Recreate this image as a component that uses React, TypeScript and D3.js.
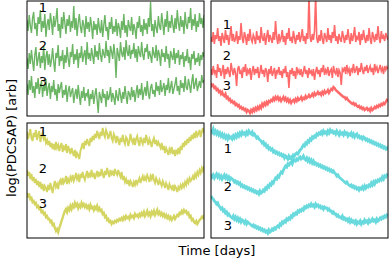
import React from 'react'
import * as d3 from 'd3'

// light curves, 160 samples each over the time span, arbitrary log-flux units (0 = panel bottom)
const greenS1 = [96, 85, 101, 90, 83, 98, 104, 87, 93, 80, 99, 92, 106, 84, 95, 88, 102, 79, 91, 97,
  86, 103, 94, 81, 100, 89, 96, 108, 85, 92, 78, 99, 87, 104, 93, 82, 97, 90, 101, 84,
  95, 88, 110, 86, 98, 80, 93, 102, 89, 83, 96, 91, 79, 100, 87, 94, 84, 99, 90, 77,
  95, 86, 92, 81, 98, 88, 83, 96, 79, 91, 101, 85, 89, 76, 94, 87, 99, 82, 90, 84,
  97, 80, 93, 88, 78, 95, 86, 102, 83, 91, 79, 96, 89, 85, 99, 81, 92, 87, 77, 94,
  88, 100, 84, 91, 80, 97, 86, 93, 82, 98, 89, 114, 85, 92, 79, 96, 88, 83, 100, 90,
  86, 103, 92, 81, 97, 89, 105, 84, 95, 88, 101, 91, 83, 98, 87, 106, 93, 85, 100, 89,
  96, 82, 104, 91, 87, 99, 93, 108, 86, 97, 90, 102, 84, 95, 89, 103, 92, 98, 88, 101]
const greenS2 = [58, 47, 63, 52, 66, 55, 45, 61, 69, 50, 57, 64, 48, 60, 53, 70, 46, 59, 65, 51,
  62, 49, 56, 68, 54, 44, 63, 58, 71, 50, 60, 55, 66, 47, 61, 53, 69, 57, 49, 64,
  59, 72, 52, 62, 56, 67, 48, 63, 58, 70, 54, 61, 66, 51, 74, 57, 63, 55, 68, 60,
  52, 71, 59, 65, 56, 73, 61, 54, 67, 62, 58, 75, 60, 66, 53, 70, 64, 57, 72, 61,
  38, 68, 62, 55, 74, 63, 59, 69, 56, 76, 64, 60, 71, 57, 66, 62, 73, 58, 67, 54,
  70, 63, 59, 74, 61, 56, 68, 64, 72, 57, 65, 60, 53, 69, 62, 58, 71, 55, 66, 61,
  50, 67, 59, 63, 54, 70, 57, 62, 48, 65, 60, 56, 68, 52, 63, 58, 66, 51, 61, 57,
  64, 49, 60, 55, 67, 53, 59, 46, 62, 57, 65, 51, 58, 54, 63, 50, 61, 56, 64, 59]
const greenS3 = [32, 21, 36, 26, 40, 23, 30, 18, 34, 27, 38, 22, 29, 35, 19, 31, 25, 37, 20, 28,
  33, 17, 30, 24, 36, 21, 27, 15, 32, 23, 29, 34, 18, 26, 21, 31, 14, 25, 30, 19,
  24, 28, 13, 22, 27, 17, 31, 20, 11, 25, 18, 29, 15, 23, 20, 27, 10, 22, 17, 26,
  12, 21, 28, 16, 3, 24, 19, 13, 27, 18, 22, 9, 25, 16, 20, 29, 14, 23, 18, 11,
  26, 19, 15, 28, 21, 13, 24, 17, 30, 20, 12, 25, 22, 16, 29, 19, 26, 14, 23, 31,
  18, 27, 21, 33, 16, 24, 29, 20, 35, 23, 17, 28, 32, 22, 26, 19, 34, 25, 30, 21,
  36, 24, 28, 33, 20, 31, 26, 38, 23, 29, 35, 22, 27, 32, 39, 25, 30, 21, 36, 28,
  33, 24, 40, 29, 26, 37, 31, 23, 34, 42, 27, 32, 38, 25, 30, 35, 28, 41, 33, 36]

const redS1 = [79, 74, 84, 72, 81, 77, 88, 75, 80, 70, 83, 78, 73, 86, 76, 81, 71, 79, 90, 75,
  82, 74, 77, 85, 72, 80, 76, 93, 78, 73, 84, 79, 71, 82, 75, 87, 77, 74, 81, 78,
  72, 85, 76, 80, 73, 89, 78, 75, 83, 71, 79, 86, 74, 81, 77, 73, 84, 76, 95, 79,
  72, 82, 75, 78, 86, 74, 80, 71, 83, 77, 88, 75, 79, 73, 85, 78, 72, 81, 76, 84,
  74, 79, 87, 75, 80, 72, 83, 77, 120, 79, 74, 82, 76, 85, 120, 78, 73, 81, 75, 86,
  77, 72, 83, 79, 74, 88, 76, 81, 73, 84, 78, 91, 75, 80, 72, 82, 77, 74, 85, 79,
  73, 81, 76, 87, 78, 72, 83, 75, 80, 89, 74, 79, 77, 84, 71, 82, 76, 86, 78, 73,
  81, 75, 88, 77, 72, 84, 79, 74, 82, 76, 90, 78, 73, 85, 77, 80, 75, 83, 79, 76]
const redS2 = [47, 41, 50, 43, 46, 38, 52, 44, 48, 40, 45, 51, 37, 47, 42, 49, 44, 39, 53, 46,
  41, 48, 43, 30, 47, 50, 42, 45, 38, 49, 44, 52, 40, 46, 43, 48, 36, 45, 50, 41,
  47, 43, 49, 38, 44, 51, 42, 46, 39, 48, 45, 34, 47, 42, 50, 40, 44, 48, 37, 46,
  43, 49, 41, 45, 38, 47, 43, 50, 39, 44, 28, 46, 42, 48, 40, 45, 37, 49, 43, 46,
  41, 47, 39, 44, 50, 42, 46, 38, 48, 43, 45, 40, 47, 36, 44, 49, 42, 46, 39, 48,
  44, 51, 41, 46, 43, 49, 40, 45, 47, 38, 50, 44, 42, 48, 39, 46, 43, 31, 47, 45,
  49, 42, 51, 44, 47, 40, 48, 45, 52, 43, 46, 50, 41, 48, 44, 53, 46, 42, 49, 45,
  51, 43, 47, 50, 44, 48, 41, 52, 46, 49, 43, 47, 51, 45, 48, 42, 50, 46, 49, 47]
const redS3 = [33, 30, 31, 28, 29, 26, 27, 24, 25, 22, 24, 21, 20, 22, 18, 19, 16, 17, 14, 15,
  13, 14, 11, 12, 10, 11, 8, 9, 7, 8, 6, 7, 4, 6, 5, 3, 6, 4, 7, 5,
  8, 6, 9, 7, 10, 8, 12, 10, 13, 11, 14, 12, 15, 14, 16, 15, 18, 16, 19, 17,
  19, 16, 18, 15, 17, 19, 16, 18, 15, 17, 14, 16, 13, 15, 16, 14, 17, 15, 18, 16,
  17, 19, 16, 18, 17, 20, 18, 19, 21, 19, 20, 22, 20, 23, 21, 22, 24, 22, 23, 21,
  24, 22, 25, 23, 24, 26, 23, 25, 27, 26, 29, 28, 26, 25, 24, 23, 22, 21, 20, 19,
  19, 17, 18, 16, 15, 14, 13, 12, 13, 11, 12, 10, 9, 10, 8, 9, 7, 8, 6, 7,
  8, 6, 7, 5, 8, 6, 7, 9, 8, 10, 9, 11, 10, 12, 11, 13, 12, 14, 16, 15]

const yellowS1 = [106, 99, 104, 109, 100, 97, 105, 101, 108, 98, 103, 107, 96, 102, 105, 99, 101, 95, 98, 93,
  97, 91, 95, 89, 94, 88, 96, 90, 93, 87, 92, 95, 86, 91, 89, 94, 85, 92, 88, 84,
  90, 86, 82, 88, 80, 85, 83, 79, 87, 91, 95, 89, 97, 93, 99, 95, 92, 100, 96, 102,
  98, 104, 100, 107, 103, 99, 106, 102, 110, 104, 101, 108, 105, 99, 103, 107, 100, 97, 104, 101,
  95, 102, 98, 93, 100, 96, 103, 97, 94, 101, 99, 92, 97, 104, 98, 95, 100, 93, 99, 102,
  96, 92, 101, 97, 94, 100, 95, 103, 98, 93, 99, 96, 91, 97, 100, 94, 98, 92, 96, 93,
  90, 95, 88, 92, 85, 90, 87, 83, 89, 86, 91, 84, 88, 82, 87, 85, 90, 84, 92, 88,
  95, 91, 97, 93, 99, 95, 101, 97, 103, 99, 105, 100, 107, 102, 104, 108, 101, 106, 110, 105]
const yellowS2 = [68, 62, 66, 59, 64, 57, 61, 55, 59, 53, 57, 51, 56, 49, 54, 47, 52, 50, 46, 53,
  48, 55, 50, 45, 52, 57, 51, 54, 49, 56, 58, 53, 60, 55, 57, 62, 54, 59, 56, 61,
  58, 63, 57, 60, 65, 59, 62, 56, 64, 60, 66, 61, 58, 63, 67, 60, 64, 62, 68, 61,
  65, 59, 63, 67, 61, 66, 62, 69, 64, 60, 67, 63, 70, 65, 61, 68, 64, 66, 62, 69,
  65, 63, 68, 64, 61, 66, 58, 62, 56, 59, 54, 58, 52, 57, 55, 51, 56, 53, 58, 54,
  57, 60, 55, 59, 62, 57, 61, 58, 63, 60, 56, 62, 59, 64, 58, 55, 60, 57, 53, 58,
  55, 52, 57, 54, 50, 55, 52, 48, 54, 51, 49, 53, 47, 52, 50, 46, 51, 49, 53, 50,
  54, 51, 56, 53, 58, 55, 60, 57, 59, 62, 58, 64, 61, 66, 63, 68, 65, 70, 67, 72]
const yellowS3 = [45, 42, 43, 39, 40, 36, 37, 34, 35, 31, 32, 29, 30, 26, 27, 24, 25, 21, 22, 19,
  19, 16, 17, 13, 14, 10, 7, 9, 6, 10, 13, 17, 20, 24, 27, 29, 26, 30, 28, 32,
  29, 33, 31, 35, 32, 34, 30, 33, 31, 35, 32, 34, 31, 33, 30, 32, 29, 33, 30, 31,
  28, 31, 29, 32, 28, 30, 27, 28, 24, 25, 21, 22, 18, 19, 16, 17, 14, 16, 15, 17,
  16, 18, 17, 19, 18, 20, 18, 21, 19, 22, 20, 21, 19, 23, 21, 22, 20, 24, 22, 23,
  21, 24, 22, 25, 23, 26, 22, 24, 27, 23, 25, 22, 26, 24, 27, 23, 25, 28, 24, 26,
  23, 25, 22, 24, 21, 23, 20, 22, 19, 21, 18, 20, 22, 19, 21, 23, 22, 25, 24, 27,
  25, 28, 26, 27, 24, 25, 21, 22, 18, 19, 16, 15, 17, 14, 16, 18, 19, 21, 20, 23]

const cyanS1 = [108, 106, 109, 105, 107, 104, 106, 103, 105, 102, 104, 101, 103, 100, 102, 99, 102, 100, 101, 99,
  102, 100, 103, 101, 104, 102, 105, 103, 106, 104, 105, 103, 106, 104, 107, 105, 104, 106, 103, 104,
  102, 100, 101, 99, 98, 97, 95, 96, 93, 94, 91, 92, 89, 90, 88, 89, 86, 87, 85, 86,
  84, 85, 83, 84, 82, 83, 80, 82, 81, 79, 82, 80, 81, 79, 83, 82, 84, 85, 84, 86,
  88, 89, 91, 93, 92, 95, 94, 97, 96, 99, 98, 101, 100, 102, 101, 104, 103, 105, 104, 106,
  104, 107, 105, 106, 104, 107, 105, 108, 106, 107, 105, 106, 104, 107, 105, 103, 106, 104, 105, 103,
  106, 104, 105, 102, 104, 103, 105, 102, 104, 101, 103, 104, 101, 102, 100, 101, 99, 101, 100, 98,
  99, 97, 98, 96, 97, 95, 96, 94, 95, 93, 94, 92, 93, 91, 92, 90, 91, 89, 90, 88]
const cyanS2 = [64, 61, 63, 60, 62, 64, 61, 63, 60, 62, 59, 61, 63, 60, 62, 59, 61, 58, 60, 59,
  58, 56, 57, 55, 56, 54, 55, 52, 53, 51, 52, 50, 51, 49, 50, 48, 49, 47, 48, 46,
  47, 45, 46, 44, 47, 45, 46, 48, 47, 50, 49, 52, 51, 54, 53, 56, 55, 58, 60, 59,
  62, 61, 64, 66, 65, 68, 70, 72, 71, 74, 73, 75, 76, 74, 77, 78, 77, 79, 78, 80,
  81, 79, 80, 82, 79, 78, 80, 77, 79, 76, 78, 75, 77, 74, 75, 73, 74, 72, 73, 71,
  72, 70, 71, 69, 70, 68, 69, 67, 68, 66, 67, 65, 64, 62, 63, 61, 60, 59, 58, 57,
  56, 55, 56, 54, 53, 52, 53, 51, 52, 50, 51, 49, 50, 48, 50, 49, 51, 49, 52, 50,
  52, 51, 53, 52, 55, 53, 56, 54, 57, 56, 58, 57, 59, 58, 61, 59, 62, 61, 63, 62]
const cyanS3 = [42, 40, 39, 37, 36, 34, 35, 32, 31, 29, 30, 27, 28, 25, 26, 23, 24, 22, 21, 20,
  22, 19, 21, 18, 20, 17, 19, 16, 18, 17, 15, 17, 14, 16, 15, 14, 13, 12, 13, 11,
  12, 10, 11, 9, 10, 8, 9, 7, 8, 6, 7, 5, 8, 6, 7, 9, 8, 10, 9, 11,
  12, 11, 14, 13, 16, 15, 17, 16, 19, 18, 20, 19, 22, 21, 24, 23, 25, 24, 27, 26,
  28, 27, 29, 28, 31, 30, 32, 31, 33, 32, 34, 32, 33, 31, 34, 32, 33, 31, 32, 30,
  31, 29, 31, 30, 30, 28, 29, 27, 27, 25, 26, 24, 24, 22, 23, 21, 21, 20, 22, 19,
  20, 18, 19, 17, 19, 16, 18, 16, 17, 15, 17, 14, 16, 15, 17, 14, 16, 15, 18, 16,
  17, 15, 18, 16, 17, 19, 17, 18, 16, 19, 17, 18, 20, 19, 21, 20, 22, 21, 23, 22]

const seriesNames = ['1', '2', '3']
// label anchors in data coords [time fraction, flux]
const labelPos = [
  [[0.09, 109], [0.09, 71], [0.09, 35]],
  [[0.09, 92], [0.09, 61], [0.09, 31]],
  [[0.09, 107], [0.09, 70], [0.09, 35]],
  [[0.095, 90], [0.095, 52], [0.095, 13]],
]

const panels = [
  { color: '#52a84a', widths: [1.4, 1.4, 1.4], data: [greenS1, greenS2, greenS3] },
  { color: '#ff4f4f', widths: [1.6, 1.6, 2.4], data: [redS1, redS2, redS3] },
  { color: '#cccc44', widths: [1.9, 1.9, 2.4], data: [yellowS1, yellowS2, yellowS3] },
  { color: '#4dd2d6', widths: [2.8, 2.8, 2.8], data: [cyanS1, cyanS2, cyanS3] },
]

const W = 390
const H = 261
const cols = [27, 211]
const rows = [1, 123]
const pw = 177
const ph = 115

export default function App() {
  const x = d3.scaleLinear().domain([0, 1]).range([0, pw])
  const y = d3.scaleLinear().domain([0, 115]).range([ph, 0])
  const lineFor = (n: number) => d3.line<number>().x((_, i) => x(i / (n - 1))).y((d) => y(d))

  return (
    <svg width={W} height={H} style={{ position: 'absolute', left: 0, top: 0 }} fontFamily="DejaVu Sans">
      <rect width={W} height={H} fill="#fff" />
      {panels.map((p, k) => {
        const px = cols[k % 2]
        const py = rows[Math.floor(k / 2)]
        return (
          <g key={k} transform={`translate(${px},${py})`}>
            <clipPath id={`clip${k}`}>
              <rect width={pw} height={ph} />
            </clipPath>
            <g clipPath={`url(#clip${k})`}>
              {p.data.map((s, j) => (
                <path key={j} d={lineFor(s.length)(s) ?? ''} fill="none" stroke={p.color} strokeWidth={p.widths[j]} strokeOpacity={0.85} />
              ))}
            </g>
            {seriesNames.map((n, j) => (
              <text key={n} x={x(labelPos[k][j][0])} y={y(labelPos[k][j][1])} fontSize={13} textAnchor="middle" dominantBaseline="central" fill="#000">
                {n}
              </text>
            ))}
            <rect width={pw} height={ph} fill="none" stroke="#000" strokeWidth={1} />
          </g>
        )
      })}
      <text x={217} y={255} fontSize={13} textAnchor="middle">Time [days]</text>
      <text transform="translate(16,138) rotate(-90)" fontSize={13} textAnchor="middle">log(PDCSAP) [arb]</text>
    </svg>
  )
}
